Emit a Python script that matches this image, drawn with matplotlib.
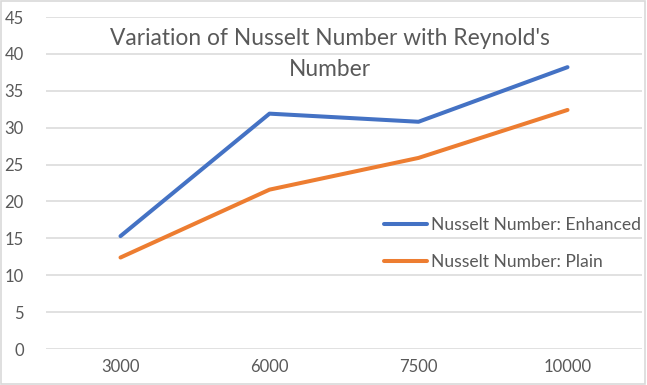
import matplotlib.pyplot as plt
from matplotlib.patches import Rectangle

plt.rcParams['font.family'] = ['Lato', 'DejaVu Sans']

reynolds = ["3000", "6000", "7500", "10000"]
nu_enhanced = [15.3, 31.9, 30.8, 38.2]
nu_plain = [12.4, 21.6, 25.9, 32.4]
y_ticks = [0, 5, 10, 15, 20, 25, 30, 35, 40, 45]

TEXT = "#595959"
GRID = "#d9d9d9"

fig = plt.figure(figsize=(6.47, 3.85), dpi=100)
ax = fig.add_axes([46 / 647, 36 / 385, 596 / 647, 332 / 385])

x = range(len(reynolds))
ax.plot(x, nu_enhanced, color="#4472c4", lw=2.9, solid_capstyle="round",
        solid_joinstyle="round", label="Nusselt Number: Enhanced", zorder=3)
ax.plot(x, nu_plain, color="#ed7d31", lw=2.9, solid_capstyle="round",
        solid_joinstyle="round", label="Nusselt Number: Plain", zorder=3)

ax.set_xlim(-0.5, len(reynolds) - 0.5)
ax.set_ylim(0, 45)
ax.set_xticks(list(x))
ax.set_xticklabels(reynolds)
ax.set_yticks(y_ticks)
ax.grid(axis="y", color=GRID, lw=1.1)
ax.set_axisbelow(True)
for s in ax.spines.values():
    s.set_visible(False)
ax.tick_params(length=0, labelsize=12, colors=TEXT)
ax.tick_params(axis="y", pad=16)
ax.tick_params(axis="x", pad=7)

fig.text(330 / 647, 1 - 54 / 385, "Variation of Nusselt Number with Reynold's\nNumber",
         ha="center", va="center", fontsize=16.4, color=TEXT, linespacing=1.6)

leg = ax.legend(loc="upper left", bbox_to_anchor=(368 / 647, 1 - 201 / 385),
                bbox_transform=fig.transFigure, frameon=False, fontsize=12.6,
                handlelength=2.45, handletextpad=0.25, labelspacing=1.24,
                labelcolor=TEXT)

# light border around the chart area
fig.patches.append(Rectangle((0.002, 0.003), 0.995, 0.994, transform=fig.transFigure,
                             fill=False, edgecolor=GRID, lw=1.2))

fig.savefig("out.png", dpi=100)
